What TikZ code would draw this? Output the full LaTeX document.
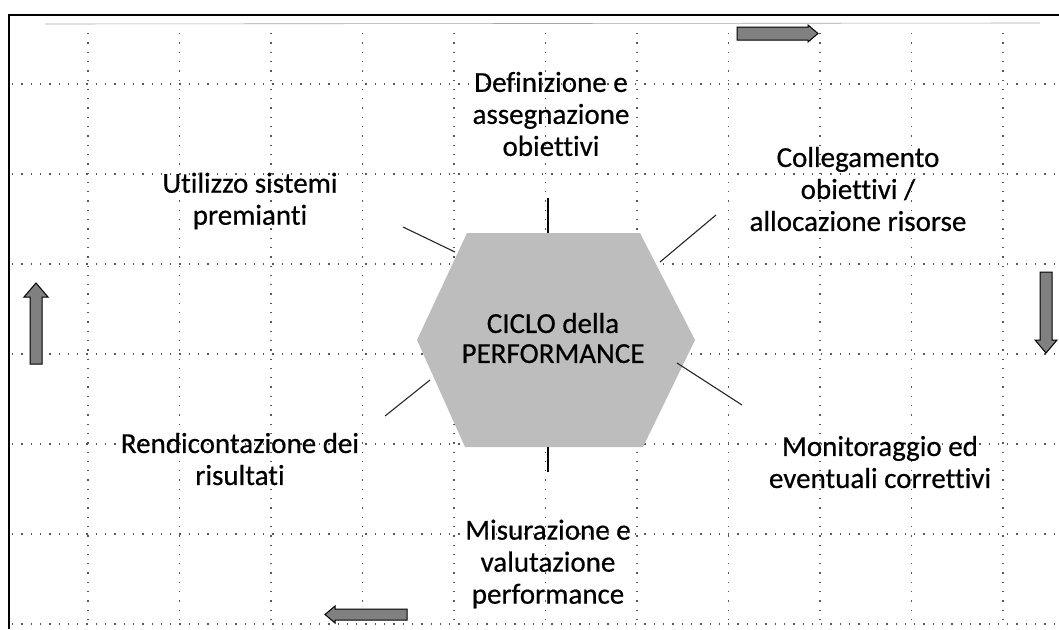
\documentclass[tikz,border=0pt]{standalone}
\usepackage{fontspec}
\setmainfont[Ligatures={NoCommon},FakeBold=0.5]{Carlito}
\begin{document}
\begin{tikzpicture}[x=1pt,y=-1pt,
  griddot/.style={line width=1.3pt,dash pattern=on 1.3pt off 8pt,color=black!65},
  frameline/.style={line width=2pt,black},
  spoke/.style={line width=1.1pt,black!85},
  spokethick/.style={line width=1.8pt,black},
  blockarrow/.style={fill=black!50,draw=black,line width=1pt,line join=miter},
  label/.style={align=center,font=\fontsize{29}{32}\selectfont,inner sep=0pt,text=black}]
\useasboundingbox (0,0) rectangle (1059,629);
% grid
\foreach \k in {0,...,10}{
  \draw[griddot] ({88+91.5*\k},33) -- ({88+91.5*\k},624);
}
\foreach \k in {0,...,6}{
  \draw[griddot] (12,{84+90*\k}) -- (1059,{84+90*\k});
}
% frame
\draw[frameline] (9,629) -- (9,15) -- (1059,15);
\draw[line width=0.6pt,black!35] (45,24) -- (1040,23);
% hexagon
\coordinate (hL) at (417,340);
\coordinate (hTL) at (467,233);
\coordinate (hTR) at (640,233);
\coordinate (hR) at (695,340);
\coordinate (hBR) at (643,447);
\coordinate (hBL) at (465,447);
\fill[black!26] (hL) -- (hTL) -- (hTR) -- (hR) -- (hBR) -- (hBL) -- cycle;
\node[label,font=\fontsize{29}{30}\selectfont] (ciclo) at (553,338) {CICLO della\\PERFORMANCE};
% labels
\node[label] (def) at (551,114) {Definizione e\\assegnazione\\obiettivi};
\node[label] (coll) at (858,189) {Collegamento\\obiettivi /\\allocazione risorse};
\node[label] (util) at (250,201) {Utilizzo sistemi\\premianti};
\node[label] (rend) at (240,459) {Rendicontazione dei\\risultati};
\node[label] (mon) at (880,462) {Monitoraggio ed\\eventuali correttivi};
\node[label] (mis) at (548,564) {Misurazione e\\valutazione\\performance};
% spokes
\coordinate (sT1) at (548,198); \coordinate (sT2) at (548,233);
\coordinate (sB1) at (548,447); \coordinate (sB2) at (548,472);
\coordinate (sUL1) at (403,227); \coordinate (sUL2) at (455,252);
\coordinate (sUR1) at (660,262); \coordinate (sUR2) at (716,215);
\coordinate (sLR1) at (677,363); \coordinate (sLR2) at (742,405);
\coordinate (sLL1) at (430,380); \coordinate (sLL2) at (385,416);
\draw[spokethick] (sT1) -- (sT2);
\draw[spokethick] (sB1) -- (sB2);
\draw[spoke] (sUL1) -- (sUL2);
\draw[spoke] (sUR1) -- (sUR2);
\draw[spoke] (sLR1) -- (sLR2);
\draw[spoke] (sLL1) -- (sLL2);
% block arrows
\draw[blockarrow] (737,27) -- (808,27) -- (808,25) -- (818,33.5) -- (808,42) -- (808,40) -- (737,40) -- cycle;
\draw[blockarrow] (1040,272) -- (1052,272) -- (1052,340) -- (1057,340) -- (1046,353) -- (1035,340) -- (1040,340) -- cycle;
\draw[blockarrow] (30,364) -- (42,364) -- (42,297) -- (48,297) -- (36,283) -- (24,297) -- (30,297) -- cycle;
\draw[blockarrow] (407,609) -- (335,609) -- (335,606) -- (325,614.5) -- (335,623) -- (335,620) -- (407,620) -- cycle;
\end{tikzpicture}
\end{document}
